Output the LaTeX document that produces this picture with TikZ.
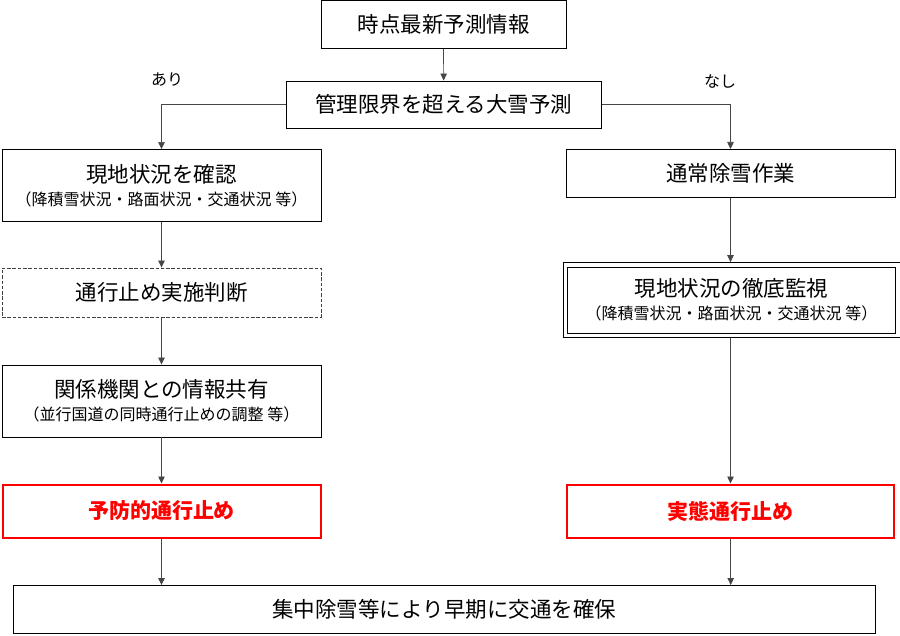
\documentclass[tikz,border=0pt]{standalone}
\usepackage{fontspec}
\setmainfont{Noto Sans CJK JP}
\usetikzlibrary{arrows.meta,calc}
\definecolor{linegray}{RGB}{70,70,70}
\definecolor{boxred}{RGB}{255,0,0}
\tikzset{
  box/.style={draw=black, line width=0.9pt, rectangle, inner sep=0pt, align=center, font=\fontsize{21.5}{24}\selectfont},
  redbox/.style={draw=boxred, line width=2pt, rectangle, inner sep=0pt, align=center, text=boxred, font=\bfseries\fontsize{21}{24}\selectfont},
  dashbox/.style={box, draw=black!75, dash pattern=on 3.5pt off 1.8pt},
  outerline/.style={draw=black, line width=0.8pt},
  conn/.style={draw=linegray, line width=0.7pt, -{Triangle[width=6.5pt,length=7pt]}},
  lbl/.style={font=\fontsize{16}{18}\selectfont, inner sep=0pt}
}
\newcommand{\subt}[1]{\\[-1pt]{\fontsize{16}{18}\selectfont #1}}
\begin{document}
\begin{tikzpicture}[x=1pt,y=-1pt]
\useasboundingbox (0,0) rectangle (900,636);
\node[box, minimum width=245pt, minimum height=47.5pt] (b1) at (443.5,24.7) {時点最新予測情報};
\node[box, minimum width=315.5pt, minimum height=47pt] (b2) at (443.7,104.5) {管理限界を超える大雪予測};
\node[box, minimum width=319pt, minimum height=72pt] (b3) at (161.5,185.5) {現地状況を確認\subt{（降積雪状況・路面状況・交通状況 等）}};
\node[box, minimum width=329pt, minimum height=48.5pt] (b4) at (730.5,173.7) {通常除雪作業};
\node[dashbox, minimum width=319pt, minimum height=49pt] (b5) at (161.5,292.5) {通行止め実施判断};
\node[box, line width=0.8pt, minimum width=328pt, minimum height=66.5pt] (b6) at (731.5,300.2) {現地状況の徹底監視\subt{（降積雪状況・路面状況・交通状況 等）}};
\draw[outerline] ($(b6.north west)+(-4,-4)$) rectangle ($(b6.south east)+(4,4)$);
\coordinate (b6top) at ($(b6.north)+(0,-4.4)$);
\coordinate (b6bot) at ($(b6.south)+(0,4.4)$);
\node[box, minimum width=319pt, minimum height=72pt] (b7) at (161.5,401) {関係機関との情報共有\subt{（並行国道の同時通行止めの調整 等）}};
\node[redbox, minimum width=318pt, minimum height=53pt] (b8) at (161.5,511) {予防的通行止め};
\node[redbox, minimum width=327pt, minimum height=53pt] (b9) at (730.7,511) {実態通行止め};
\node[box, minimum width=861.5pt, minimum height=48pt] (b10) at (444.2,609.5) {集中除雪等により早期に交通を確保};
\node[lbl] (ari) at (167,80) {あり};
\node[lbl] (nashi) at (720,81) {なし};
\draw[conn] (b1.south) -- (b2.north);
\draw[conn] (b2.west) -| (b3.north);
\draw[conn] (b2.east) -| (b4.north);
\draw[conn] (b3.south) -- (b5.north);
\draw[conn] (b5.south) -- (b7.north);
\draw[conn] (b7.south) -- (b8.north);
\draw[conn] (b8.south) -- (b8.south |- b10.north);
\draw[conn] (b4.south) -- (b4.south |- b6top);
\draw[conn] (b6bot -| b4.south) -- (b9.north -| b4.south);
\draw[conn] (b9.south) -- (b9.south |- b10.north);
\end{tikzpicture}
\end{document}
